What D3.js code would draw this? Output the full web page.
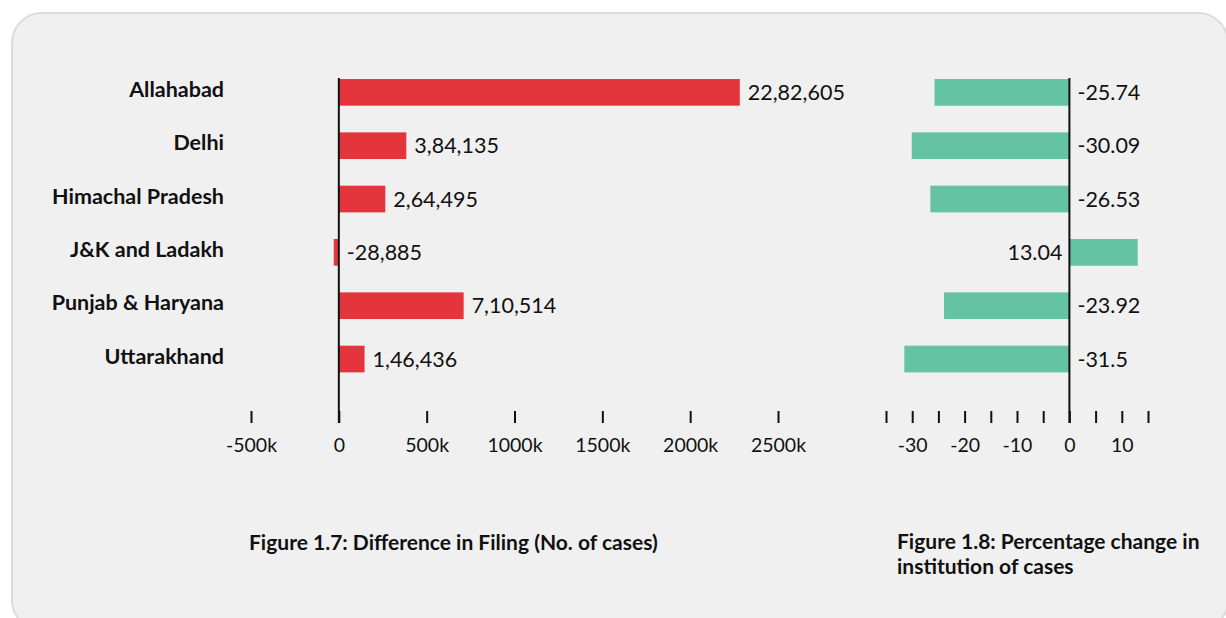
<!DOCTYPE html>
<html>
<head>
<meta charset="utf-8">
<script src="https://cdn.jsdelivr.net/npm/d3@7"></script>
<style>
  body { margin: 0; background: #fff; font-family: Lato, "Open Sans", sans-serif; }
  svg text { font-family: Lato, "Open Sans", sans-serif; fill: #111; }
</style>
</head>
<body>
<svg id="chart" width="1226" height="618"></svg>
<script>
var courts = ["Allahabad", "Delhi", "Himachal Pradesh", "J&K and Ladakh", "Punjab & Haryana", "Uttarakhand"];
var filing_diff = [2282605, 384135, 264495, -28885, 710514, 146436];
var pct_change = [-25.74, -30.09, -26.53, 13.04, -23.92, -31.5];
var filing_ticks = [-500000, 0, 500000, 1000000, 1500000, 2000000, 2500000];
var pct_ticks = [-35, -30, -25, -20, -15, -10, -5, 0, 5, 10, 15];
var pct_tick_labels = [-30, -20, -10, 0, 10];
var caption1 = ["Figure 1.7: Difference in Filing (No. of cases)"];
var caption2 = ["Figure 1.8: Percentage change in", "institution of cases"];

var red = "#e3353b";
var green = "#63c3a2";

// indian style grouping 22,82,605
function indian(n) {
  var neg = n < 0;
  var s = String(Math.abs(n));
  var last3 = s.slice(-3);
  var rest = s.slice(0, -3);
  if (rest.length) rest = rest.replace(/\B(?=(\d{2})+(?!\d))/g, ",") + ",";
  return (neg ? "-" : "") + rest + last3;
}

var svg = d3.select("#chart");

svg.append("rect")
  .attr("x", 12).attr("y", 13)
  .attr("width", 1216).attr("height", 617)
  .attr("rx", 30).attr("ry", 30)
  .attr("fill", "#f0f0f0")
  .attr("stroke", "#dcdcdc")
  .attr("stroke-width", 2);

var y = d3.scaleBand()
  .domain(courts)
  .range([65.7, 385.7])
  .paddingInner(0.5)
  .paddingOuter(0.25);

var axisY = 411;

// category labels
svg.append("g").selectAll("text")
  .data(courts)
  .enter()
  .append("text")
  .attr("x", 224)
  .attr("y", d => y(d) + y.bandwidth() / 2)
  .attr("dy", "0.22em")
  .attr("text-anchor", "end")
  .style("font-size", "21.5px")
  .style("font-weight", "bold")
  .text(d => d);

//************ left chart: difference in filing

var x1 = d3.scaleLinear()
  .domain([-500000, 2500000])
  .range([251, 778]);

var left = svg.append("g");

left.selectAll("rect")
  .data(filing_diff)
  .enter()
  .append("rect")
  .attr("x", d => x1(Math.min(0, d)))
  .attr("y", (d, i) => y(courts[i]))
  .attr("width", d => Math.abs(x1(d) - x1(0)))
  .attr("height", y.bandwidth())
  .attr("fill", red);

left.selectAll("text.val")
  .data(filing_diff)
  .enter()
  .append("text")
  .attr("class", "val")
  .attr("x", d => x1(Math.max(0, d)) + (d < 0 ? 8 : 8))
  .attr("y", (d, i) => y(courts[i]) + y.bandwidth() / 2)
  .attr("dy", "0.35em")
  .style("font-size", "21.5px")
  .text(d => indian(d));

var ax1 = left.append("g")
  .attr("transform", "translate(0," + axisY + ")")
  .call(d3.axisBottom(x1)
    .tickValues(filing_ticks)
    .tickSize(12)
    .tickPadding(15)
    .tickFormat(d => d == 0 ? "0" : (d / 1000) + "k"));
ax1.select(".domain").remove();
ax1.selectAll(".tick line").attr("stroke", "#111").attr("stroke-width", 2);
ax1.selectAll(".tick text").style("font-size", "19.5px").attr("fill", "#111");

left.append("line")
  .attr("x1", x1(0)).attr("x2", x1(0))
  .attr("y1", 78).attr("y2", axisY + 12)
  .attr("stroke", "#111")
  .attr("stroke-width", 2);

//************ right chart: percentage change

var x2 = d3.scaleLinear()
  .domain([-35, 15])
  .range([886, 1148]);

var right = svg.append("g");

right.selectAll("rect")
  .data(pct_change)
  .enter()
  .append("rect")
  .attr("x", d => x2(Math.min(0, d)))
  .attr("y", (d, i) => y(courts[i]))
  .attr("width", d => Math.abs(x2(d) - x2(0)))
  .attr("height", y.bandwidth())
  .attr("fill", green);

right.selectAll("text.val")
  .data(pct_change)
  .enter()
  .append("text")
  .attr("class", "val")
  .attr("x", d => d < 0 ? x2(0) + 8 : x2(0) - 7)
  .attr("text-anchor", d => d < 0 ? "start" : "end")
  .attr("y", (d, i) => y(courts[i]) + y.bandwidth() / 2)
  .attr("dy", "0.35em")
  .style("font-size", "21.5px")
  .text(d => String(d));

var ax2 = right.append("g")
  .attr("transform", "translate(0," + axisY + ")")
  .call(d3.axisBottom(x2)
    .tickValues(pct_ticks)
    .tickSize(12)
    .tickPadding(15)
    .tickFormat(d => pct_tick_labels.indexOf(d) >= 0 ? String(d) : ""));
ax2.select(".domain").remove();
ax2.selectAll(".tick line").attr("stroke", "#111").attr("stroke-width", 2);
ax2.selectAll(".tick text").style("font-size", "19.5px").attr("fill", "#111");

right.append("line")
  .attr("x1", x2(0)).attr("x2", x2(0))
  .attr("y1", 78).attr("y2", axisY + 12)
  .attr("stroke", "#111")
  .attr("stroke-width", 2);

//************ captions

svg.append("g").selectAll("text")
  .data(caption1)
  .enter()
  .append("text")
  .attr("x", 249)
  .attr("y", (d, i) => 550 + i * 25)
  .style("font-size", "21px")
  .style("font-weight", "bold")
  .text(d => d);

svg.append("g").selectAll("text")
  .data(caption2)
  .enter()
  .append("text")
  .attr("x", 897)
  .attr("y", (d, i) => 549 + i * 25)
  .style("font-size", "21px")
  .style("font-weight", "bold")
  .text(d => d);
</script>
</body>
</html>
